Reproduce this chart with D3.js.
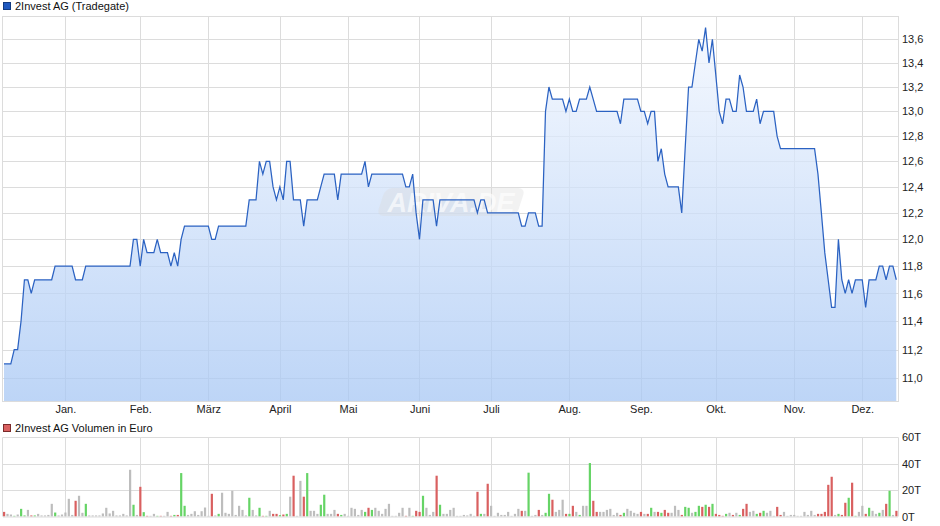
<!DOCTYPE html>
<html><head><meta charset="utf-8">
<script src="https://cdn.jsdelivr.net/npm/d3@7"></script>
<style>
html,body{margin:0;padding:0;background:#fff;}
svg{display:block;font-family:"Liberation Sans",Arial,sans-serif;}
</style></head>
<body>
<svg id="chart" width="940" height="526"></svg>
<script>
// ---- data ----
const priceTitle = "2Invest AG (Tradegate)";
const volumeTitle = "2Invest AG Volumen in Euro";
const prevClose = 11.2;
const priceValues = [
11.1,11.1,11.1,11.2,11.2,11.4,11.7,11.7,11.6,11.7,
11.7,11.7,11.7,11.7,11.7,11.8,11.8,11.8,11.8,11.8,
11.8,11.7,11.7,11.7,11.8,11.8,11.8,11.8,11.8,11.8,
11.8,11.8,11.8,11.8,11.8,11.8,11.8,11.8,12.0,12.0,
11.8,12.0,11.9,11.9,11.9,12.0,11.9,11.9,11.9,11.8,
11.9,11.8,12.0,12.1,12.1,12.1,12.1,12.1,12.1,12.1,
12.1,12.0,12.0,12.1,12.1,12.1,12.1,12.1,12.1,12.1,
12.1,12.1,12.3,12.3,12.3,12.6,12.5,12.6,12.6,12.4,
12.3,12.4,12.3,12.6,12.6,12.3,12.3,12.3,12.1,12.3,
12.3,12.3,12.3,12.4,12.5,12.5,12.5,12.5,12.3,12.5,
12.5,12.5,12.5,12.5,12.5,12.5,12.6,12.4,12.5,12.5,
12.5,12.5,12.5,12.5,12.5,12.5,12.5,12.5,12.4,12.4,
12.5,12.2,12.0,12.3,12.3,12.3,12.3,12.1,12.3,12.3,
12.3,12.3,12.3,12.3,12.3,12.3,12.3,12.3,12.3,12.2,
12.3,12.3,12.2,12.2,12.2,12.2,12.2,12.2,12.2,12.2,
12.2,12.2,12.1,12.1,12.2,12.2,12.2,12.1,12.1,13.0,
13.2,13.1,13.1,13.1,13.1,13.0,13.1,13.0,13.0,13.1,
13.1,13.1,13.2,13.1,13.0,13.0,13.0,13.0,13.0,13.0,
13.0,12.9,13.1,13.1,13.1,13.1,13.1,13.0,13.0,12.9,
13.0,13.0,12.6,12.7,12.5,12.4,12.4,12.4,12.4,12.2,
12.7,13.2,13.2,13.4,13.6,13.5,13.7,13.4,13.6,13.3,
13.0,12.9,13.1,13.1,13.0,13.0,13.3,13.2,13.0,13.0,
13.0,13.1,12.9,13.0,13.0,13.0,13.0,12.8,12.7,12.7,
12.7,12.7,12.7,12.7,12.7,12.7,12.7,12.7,12.7,12.5,
12.2,11.9,11.7,11.5,11.5,12.0,11.7,11.6,11.7,11.6,
11.7,11.7,11.7,11.5,11.7,11.7,11.7,11.8,11.8,11.7,
11.8,11.8,11.7];
const volumeThousands = [
3.5,2.0,1.5,0.5,1.5,5.8,0.8,5.0,0.8,0.8,
2.0,0.8,0.8,1.2,9.6,3.0,0.8,1.5,3.0,13.4,
1.2,11.9,15.7,2.8,9.6,0.8,0.8,0.8,0.8,2.3,
6.6,2.3,4.3,0.8,0.8,2.0,0.8,35.4,8.9,1.2,
22.5,3.3,0.5,0.5,2.0,0.5,0.5,0.5,3.5,0.5,
1.2,1.2,32.9,8.1,1.2,2.0,4.0,1.2,4.0,6.8,
0.5,17.2,0.8,2.0,18.0,2.8,2.0,19.5,1.2,8.1,
5.0,0.8,14.2,5.0,0.8,6.6,0.5,0.5,4.3,2.0,
2.0,1.0,1.5,2.0,15.0,30.9,0.5,27.0,15.0,32.9,
4.3,4.3,2.0,8.9,16.5,2.0,2.0,5.0,2.0,1.2,
2.0,0.5,6.6,5.8,1.2,5.0,3.5,6.6,5.0,6.6,
4.3,2.0,5.8,9.6,0.5,0.5,2.8,6.6,0.5,6.6,
0.5,4.3,3.5,15.7,6.6,1.2,3.5,30.9,8.9,2.0,
2.0,5.0,6.6,0.5,0.5,1.2,0.8,2.0,0.5,18.7,
2.0,2.0,24.8,8.1,0.5,2.8,1.2,1.2,3.5,0.5,
2.0,5.8,4.3,4.3,33.2,0.5,1.2,5.0,1.2,2.8,
17.2,12.7,3.5,5.0,12.7,2.0,2.0,8.1,3.5,1.2,
8.1,8.1,40.5,11.9,3.5,3.5,3.5,5.0,5.8,1.2,
2.8,1.2,2.8,5.8,4.3,2.8,2.0,3.5,2.0,2.0,
6.6,3.5,3.5,2.8,5.0,2.8,2.8,8.1,5.0,1.2,
7.3,6.6,2.8,3.5,8.1,7.3,8.9,7.3,9.6,2.0,
1.2,0.5,2.0,2.8,1.2,2.8,1.2,5.8,9.6,3.5,
4.3,2.0,2.8,4.3,2.8,4.3,0.5,7.3,1.2,3.5,
0.5,1.2,1.2,0.5,0.5,3.5,1.2,4.3,1.2,2.0,
2.0,3.5,24.0,30.1,1.2,2.0,1.2,10.4,14.2,25.6,
0.5,3.5,8.1,2.0,6.6,4.3,2.0,2.8,5.0,9.6,
19.5,1.2,4.3];
const monthIndex = [18,40,60,81,101,122,143,166,187,209,232,252];
const monthLabels = ["Jan.","Feb.","März","April","Mai","Juni","Juli","Aug.","Sep.","Okt.","Nov.","Dez."];
const priceTicks = [11.0,11.2,11.4,11.6,11.8,12.0,12.2,12.4,12.6,12.8,13.0,13.2,13.4,13.6];
const volumeTicks = [0,20,40,60];

// ---- layout ----
const L = 3, R = 898;
const pTop = 16, pBot = 401;
const vTop = 437.3, vBot = 516.5;
const svg = d3.select("#chart");
const gridColor = "#dcdcdc";
const de = d3.formatLocale({decimal:",", thousands:".", grouping:[3], currency:["","€"]});
const fmt1 = de.format(".1f");

const x = d3.scaleLinear().domain([0, priceValues.length - 1]).range([4, 896.3]);
const y = d3.scaleLog().domain([10.845, 13.80]).range([pBot, pTop]);
const yv = d3.scaleLinear().domain([0, 60]).range([vBot, vTop]);

// gradient
const defs = svg.append("defs");
const grad = defs.append("linearGradient").attr("id","fillGrad")
  .attr("gradientUnits","userSpaceOnUse").attr("x1",0).attr("x2",0).attr("y1",pTop).attr("y2",pBot);
grad.append("stop").attr("offset","0%").attr("stop-color","#f4f8ff");
grad.append("stop").attr("offset","100%").attr("stop-color","#a7c7f4");
defs.append("clipPath").attr("id","pclip").append("rect")
  .attr("x",L).attr("y",pTop).attr("width",R-L).attr("height",pBot-pTop);

// ---- price panel ----
const pg = svg.append("g");
// horizontal grid
pg.selectAll("line.hg").data(priceTicks).join("line")
  .attr("x1",L).attr("x2",R).attr("y1",d=>Math.round(y(d))+0.5).attr("y2",d=>Math.round(y(d))+0.5)
  .attr("stroke",gridColor);
// vertical grid
pg.selectAll("line.vg").data(monthIndex).join("line")
  .attr("x1",d=>Math.round(x(d))+0.5).attr("x2",d=>Math.round(x(d))+0.5)
  .attr("y1",pTop).attr("y2",pBot).attr("stroke",gridColor);
// frame
pg.append("rect").attr("x",L-0.5).attr("y",pTop+0.5).attr("width",R-L+1).attr("height",pBot-pTop)
  .attr("fill","none").attr("stroke",gridColor);

// area
const area = d3.area().x((d,i)=>x(i)).y0(pBot).y1(d=>y(d));
pg.append("path").datum(priceValues).attr("d",area)
  .attr("fill","url(#fillGrad)").attr("fill-opacity",0.75).attr("clip-path","url(#pclip)");

// watermark
const wm = pg.append("g").attr("transform","translate(451,202)");
wm.append("rect").attr("x",-70).attr("y",-14).attr("width",140).attr("height",28).attr("rx",7)
  .attr("transform","skewX(-18)").attr("fill","#d9d9d9").attr("fill-opacity",0.35);
wm.append("text").attr("text-anchor","middle").attr("dy","0.36em")
  .attr("font-size",27).attr("font-weight","bold").attr("font-style","italic")
  .attr("fill","#ffffff").attr("fill-opacity",0.65).text("ARIVA.DE");

// line
const line = d3.line().x((d,i)=>x(i)).y(d=>y(d));
pg.append("path").datum(priceValues).attr("d",line)
  .attr("fill","none").attr("stroke","#2b62c2").attr("stroke-width",1.25).attr("stroke-linejoin","miter");

// price axis (right)
const yAxis = d3.axisRight(y).tickValues(priceTicks).tickFormat(d=>fmt1(d)).tickSize(0).tickPadding(4);
const ya = pg.append("g").attr("transform",`translate(${R},0)`).call(yAxis);
ya.select(".domain").remove();
ya.selectAll("text").attr("font-size",11).attr("fill","#222").attr("font-family","Liberation Sans, Arial, sans-serif");

// month axis
const xAxis = d3.axisBottom(x).tickValues(monthIndex).tickFormat((d,i)=>monthLabels[i]).tickSize(0).tickPadding(4);
const xa = pg.append("g").attr("transform",`translate(0,${pBot})`).call(xAxis);
xa.select(".domain").remove();
xa.selectAll("text").attr("font-size",11).attr("fill","#222").attr("font-family","Liberation Sans, Arial, sans-serif");

// title
pg.append("rect").attr("x",3.5).attr("y",2.5).attr("width",7).attr("height",7)
  .attr("fill","#1f58bf").attr("stroke","#123a80");
pg.append("text").attr("x",15).attr("y",10).attr("font-size",11).attr("fill","#111").text(priceTitle);

// ---- volume panel ----
const vg = svg.append("g");
vg.selectAll("line.hv").data(volumeTicks.filter(d=>d>0)).join("line")
  .attr("x1",L).attr("x2",R).attr("y1",d=>Math.round(yv(d))+0.5).attr("y2",d=>Math.round(yv(d))+0.5)
  .attr("stroke",gridColor);
vg.selectAll("line.vv").data(monthIndex).join("line")
  .attr("x1",d=>Math.round(x(d))+0.5).attr("x2",d=>Math.round(x(d))+0.5)
  .attr("y1",vTop).attr("y2",vBot).attr("stroke",gridColor);
vg.append("line").attr("x1",L-0.5).attr("x2",L-0.5).attr("y1",vTop).attr("y2",vBot).attr("stroke",gridColor);
vg.append("line").attr("x1",R+0.5).attr("x2",R+0.5).attr("y1",vTop).attr("y2",vBot).attr("stroke",gridColor);

const barColor = i => {
  const prev = i === 0 ? prevClose : priceValues[i-1];
  const cur = priceValues[i];
  if (cur > prev + 1e-9) return "#66d466";
  if (cur < prev - 1e-9) return "#d96060";
  return "#bdbdbd";
};
vg.selectAll("rect.bar").data(volumeThousands).join("rect")
  .attr("x",(d,i)=>x(i)-1).attr("width",2.2)
  .attr("y",d=>yv(d)).attr("height",d=>vBot-yv(d))
  .attr("fill",(d,i)=>barColor(i));
vg.append("line").attr("x1",L).attr("x2",R).attr("y1",vBot+0.5).attr("y2",vBot+0.5).attr("stroke",gridColor);

const vAxis = d3.axisRight(yv).tickValues(volumeTicks).tickFormat(d=>d+"T").tickSize(0).tickPadding(4);
const va = vg.append("g").attr("transform",`translate(${R},0)`).call(vAxis);
va.select(".domain").remove();
va.selectAll("text").attr("font-size",11).attr("fill","#222").attr("font-family","Liberation Sans, Arial, sans-serif");

vg.append("rect").attr("x",3.5).attr("y",424.5).attr("width",7).attr("height",7)
  .attr("fill","#d96060").attr("stroke","#7a2a2a");
vg.append("text").attr("x",15).attr("y",432).attr("font-size",11).attr("fill","#111").text(volumeTitle);
</script>
</body></html>
